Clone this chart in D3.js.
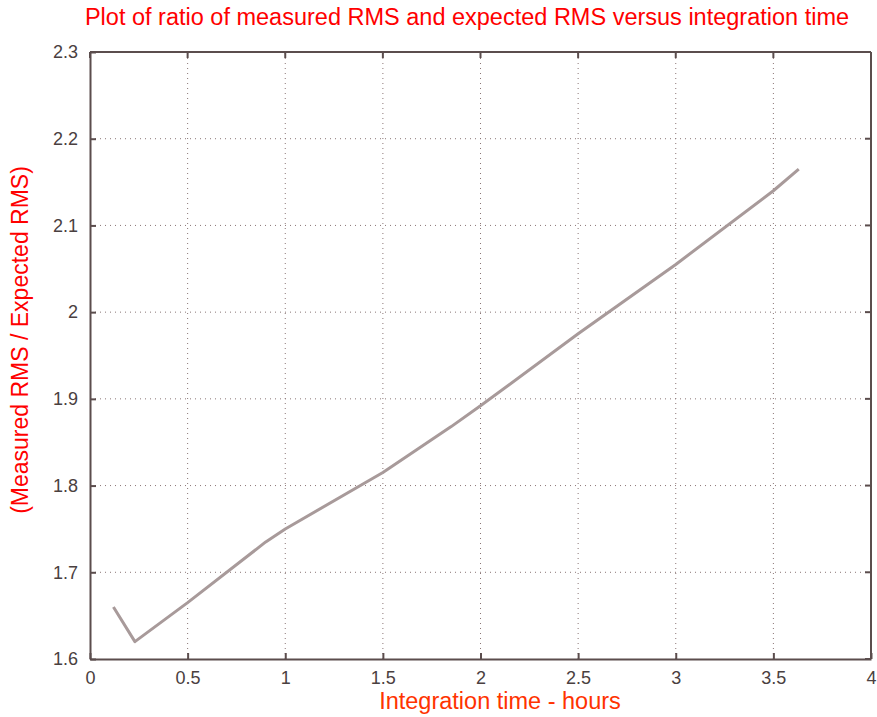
<!DOCTYPE html>
<html>
<head>
<meta charset="utf-8">
<script src="https://cdn.jsdelivr.net/npm/d3@7"></script>
<style>
  body { margin: 0; background: #fff; }
  svg { display: block; }
</style>
</head>
<body>
<script>
// data
const hours = [0.12, 0.23, 0.5, 0.9, 1.0, 1.5, 1.85, 2.0, 2.5, 3.0, 3.5, 3.63];
const rmsRatio = [1.66, 1.62, 1.665, 1.735, 1.75, 1.815, 1.868, 1.892, 1.975, 2.055, 2.14, 2.165];
const xTicks = [0, 0.5, 1, 1.5, 2, 2.5, 3, 3.5, 4];
const yTicks = [1.6, 1.7, 1.8, 1.9, 2, 2.1, 2.2, 2.3];

const width = 877;
const height = 717;
const margin = { top: 52, right: 6, bottom: 58, left: 90 };

const svg = d3
  .select("body")
  .append("svg")
  .attr("width", width)
  .attr("height", height);

const x = d3.scaleLinear().domain([0, 4]).range([margin.left, width - margin.right]);
const y = d3.scaleLinear().domain([1.6, 2.3]).range([height - margin.bottom, margin.top]);

const frame = "#5b4d4d";
const grid = "#8a7575";

// dotted grid
svg.append("g")
  .selectAll("line")
  .data(xTicks.slice(1, -1))
  .enter()
  .append("line")
  .attr("x1", d => x(d)).attr("x2", d => x(d))
  .attr("y1", y(1.6)).attr("y2", y(2.3))
  .attr("stroke", grid)
  .attr("stroke-width", 1)
  .attr("stroke-dasharray", "1,4");

svg.append("g")
  .selectAll("line")
  .data(yTicks.slice(1, -1))
  .enter()
  .append("line")
  .attr("x1", x(0)).attr("x2", x(4))
  .attr("y1", d => y(d)).attr("y2", d => y(d))
  .attr("stroke", grid)
  .attr("stroke-width", 1)
  .attr("stroke-dasharray", "1,4");

// axes
const fmt = d => String(d);
const xAxis = d3.axisBottom(x).tickValues(xTicks).tickFormat(fmt).tickSizeInner(-6).tickSizeOuter(0).tickPadding(12);
const yAxis = d3.axisLeft(y).tickValues(yTicks).tickFormat(fmt).tickSizeInner(-6).tickSizeOuter(0).tickPadding(12);

const gx = svg.append("g")
  .attr("transform", `translate(0,${y(1.6)})`)
  .call(xAxis);
const gy = svg.append("g")
  .attr("transform", `translate(${x(0)},0)`)
  .call(yAxis);

[gx, gy].forEach(g => {
  g.selectAll("path, line").attr("stroke", frame).attr("stroke-width", 2);
  g.selectAll("text")
    .attr("fill", "#4a4040")
    .style("font-family", "Arial, 'Liberation Sans', sans-serif")
    .style("font-size", "18px");
});

// top and right borders with inward ticks
svg.append("line")
  .attr("x1", x(0)).attr("x2", x(4))
  .attr("y1", y(2.3)).attr("y2", y(2.3))
  .attr("stroke", frame).attr("stroke-width", 2);
svg.append("line")
  .attr("x1", x(4)).attr("x2", x(4))
  .attr("y1", y(2.3)).attr("y2", y(1.6))
  .attr("stroke", frame).attr("stroke-width", 2);
svg.append("g")
  .selectAll("line")
  .data(xTicks)
  .enter()
  .append("line")
  .attr("x1", d => x(d)).attr("x2", d => x(d))
  .attr("y1", y(2.3)).attr("y2", y(2.3) + 6)
  .attr("stroke", frame).attr("stroke-width", 2);
svg.append("g")
  .selectAll("line")
  .data(yTicks)
  .enter()
  .append("line")
  .attr("x1", x(4)).attr("x2", x(4) - 6)
  .attr("y1", d => y(d)).attr("y2", d => y(d))
  .attr("stroke", frame).attr("stroke-width", 2);

// the curve
const pts = hours.map((h, i) => [h, rmsRatio[i]]);
svg.append("path")
  .datum(pts)
  .attr("fill", "none")
  .attr("stroke", "#a89a9a")
  .attr("stroke-width", 3)
  .attr("stroke-linejoin", "round")
  .attr("d", d3.line().x(d => x(d[0])).y(d => y(d[1])));

// titles
svg.append("text")
  .attr("x", 467)
  .attr("y", 25)
  .attr("text-anchor", "middle")
  .attr("fill", "#ff0000")
  .style("font-family", "Arial, 'Liberation Sans', sans-serif")
  .style("font-size", "23.5px")
  .text("Plot of ratio of measured RMS and expected RMS versus integration time");

svg.append("text")
  .attr("x", 500)
  .attr("y", 709)
  .attr("text-anchor", "middle")
  .attr("fill", "#ff3300")
  .style("font-family", "Arial, 'Liberation Sans', sans-serif")
  .style("font-size", "23.5px")
  .text("Integration time - hours");

svg.append("text")
  .attr("transform", "translate(28,340) rotate(-90)")
  .attr("text-anchor", "middle")
  .attr("fill", "#ff0000")
  .style("font-family", "Arial, 'Liberation Sans', sans-serif")
  .style("font-size", "23px")
  .text("(Measured RMS / Expected RMS)");
</script>
</body>
</html>
